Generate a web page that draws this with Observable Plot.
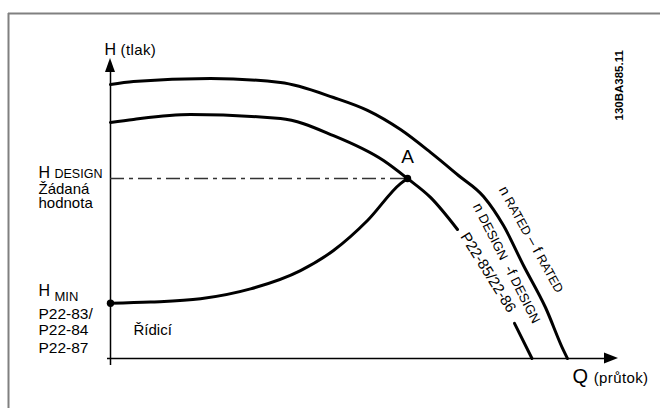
<!DOCTYPE html>
<html><head><meta charset="utf-8">
<script src="https://cdn.jsdelivr.net/npm/d3@7"></script>
<script src="https://cdn.jsdelivr.net/npm/@observablehq/plot@0.6"></script>
<style>
html,body{margin:0;padding:0;background:#fff;overflow:hidden}
</style></head><body><div id="chart"></div>
<script>
// ---- data (Q = flow, H = head, arbitrary units) ----
const ratedQ  = [0, 4.6, 20, 34, 44.6, 51.4, 58, 64, 69.6, 74.6, 78.6, 82.6, 87, 90.6, 91.4];
const ratedH  = [91.3, 92.3, 93.3, 92, 87, 82.7, 76.3, 68.7, 61, 54, 44.3, 31, 17, 2.7, 0];
const designQ = [0, 4.6, 16, 34, 44.6, 54.6, 59.4, 64, 69.4];
const designH = [78.7, 79.7, 81.3, 80, 74.3, 66, 60, 53.7, 43];
const designLowQ = [80.8, 84.3];
const designLowH = [11.7, 0];
const systemQ = [0, 8, 18, 28, 38, 44.6, 51.4, 58, 59.4];
const systemH = [18.4, 18.8, 19.9, 23.2, 29.3, 36, 46, 58.3, 60];
const pointA = {q: 59.4, h: 60};
const pointMin = {q: 0, h: 18.4};
const hDesign = 60;

// axis extents
const axisQmax = 101.6, axisHmax = 100;

// text labels ({size:text} marks a smaller part, [size:text] a lowered one)
const labels = [
  {t: "H {12.5:DESIGN}", q: -14.4, h: 60.33, fs: 16, rot: 0},
  {t: "Žádaná", q: -14.4, h: 55, fs: 15, rot: 0},
  {t: "hodnota", q: -14.4, h: 50.33, fs: 15, rot: 0},
  {t: "H [13:MIN]", q: -14.4, h: 21, fs: 16, rot: 0},
  {t: "P22-83/", q: -14.4, h: 13.33, fs: 15.5, rot: 0},
  {t: "P22-84", q: -14.4, h: 7.67, fs: 15.5, rot: 0},
  {t: "P22-87", q: -14.4, h: 1.67, fs: 15.5, rot: 0},
  {t: "Řídicí", q: 4.6, h: 8, fs: 15, rot: 0},
  {t: "H {15:(tlak)}", q: -1.2, h: 101.33, fs: 16, rot: 0},
  {t: "Q {15:(průtok)}", q: 92.4, h: -8.33, fs: 20, rot: 0},
  {t: "n {12.5:RATED} – f {12.5:RATED}", q: 77.6, h: 56.33, fs: 14.5, rot: 61},
  {t: "n {13:DESIGN}  -f {13:DESIGN}", q: 72.4, h: 50.83, fs: 14.5, rot: 63},
  {t: "P22-85/22-86", q: 69.9, h: 40.67, fs: 15, rot: 58}
];
const codeLabel = [{t: "130BA385.11", q: 102.4, h: 79.33}];

const rows = (qs, hs, seg) => qs.map((q, i) => ({q, h: hs[i], seg}));
const rated = rows(ratedQ, ratedH, "r");
const design = rows(designQ, designH, "a").concat(rows(designLowQ, designLowH, "b"));
const system = rows(systemQ, systemH, "s");

const plot = Plot.plot({
  width: 660, height: 408,
  marginLeft: 110, marginRight: 50, marginTop: 58, marginBottom: 50,
  x: {domain: [0, 100], axis: null},
  y: {domain: [0, 100], axis: null},
  style: {fontFamily: "'Liberation Sans', Arial, sans-serif", background: "white"},
  marks: [
    // frame (top and left edges visible)
    Plot.ruleY([115], {x1: -20.4, x2: 140, stroke: "#808080", strokeWidth: 2}),
    Plot.ruleX([-20.4], {y1: -40, y2: 115, stroke: "#808080", strokeWidth: 2}),
    // axes
    Plot.ruleX([0], {y1: -2.33, y2: axisHmax - 4.5, stroke: "black", strokeWidth: 1.5}),
    Plot.ruleY([0], {x1: -0.6, x2: axisQmax - 2.6, stroke: "black", strokeWidth: 1.5}),
    Plot.areaX([{h: axisHmax - 4.67, a: -1, b: 1}, {h: axisHmax, a: 0, b: 0}], {y: "h", x1: "a", x2: "b", fill: "black"}),
    Plot.areaY([{q: axisQmax - 2.8, a: -1.83, b: 1.83}, {q: axisQmax, a: 0, b: 0}], {x: "q", y1: "a", y2: "b", fill: "black"}),
    // design head line
    Plot.ruleY([hDesign], {x1: 0, x2: pointA.q, stroke: "#333", strokeWidth: 1.5, strokeDasharray: "14,5,4,5"}),
    // curves
    Plot.line(rated, {x: "q", y: "h", curve: "monotone-x", stroke: "black", strokeWidth: 3}),
    Plot.line(design, {x: "q", y: "h", z: "seg", curve: "monotone-x", stroke: "black", strokeWidth: 3}),
    Plot.line(system, {x: "q", y: "h", curve: "monotone-x", stroke: "black", strokeWidth: 3}),
    Plot.dot([pointA, pointMin], {x: "q", y: "h", r: 3.7, fill: "black"}),
    // labels
    Plot.text(labels, {x: "q", y: "h", text: "t", fontSize: d => d.fs, rotate: d => d.rot, textAnchor: "start", lineAnchor: "bottom", fill: "black"}),
    Plot.text([pointA], {x: "q", y: d => d.h + 5.33, text: () => "A", fontSize: 19, textAnchor: "middle", lineAnchor: "bottom", fill: "black"}),
    Plot.text(codeLabel, {x: "q", y: "h", text: "t", rotate: -90, fontSize: 11.5, fontWeight: "bold", fontFamily: "'Liberation Sans Narrow', 'Liberation Sans', Arial, sans-serif", textAnchor: "start", lineAnchor: "bottom", fill: "black"})
  ]
});

// mixed-size text
d3.select(plot).selectAll("text").each(function () {
  const s = this.textContent;
  if (!/[{\[]/.test(s)) return;
  const el = d3.select(this);
  this.textContent = "";
  s.split(/(\{[^}]*\}|\[[^\]]*\])/).filter(Boolean).forEach(part => {
    if (part[0] === "{" || part[0] === "[") {
      const [size, txt] = part.slice(1, -1).split(":");
      const ts = el.append("tspan").attr("font-size", size + "px").text(txt);
      if (part[0] === "[") ts.attr("dy", "5");
      if (txt.startsWith("(")) ts.attr("letter-spacing", "0.4");
    } else el.append("tspan").text(part);
  });
});

document.getElementById("chart").appendChild(plot);
</script></body></html>
